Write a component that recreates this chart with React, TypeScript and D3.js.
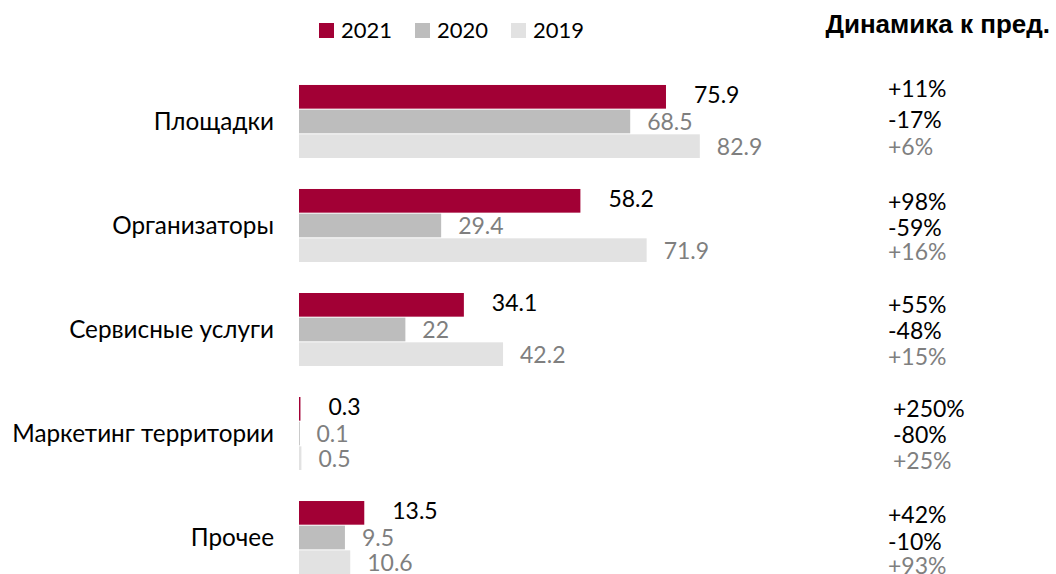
import React from "react";
import * as d3 from "d3";

const categories = ["Площадки", "Организаторы", "Сервисные услуги", "Маркетинг территории", "Прочее"];
const years = ["2021", "2020", "2019"];
const values2021 = [75.9, 58.2, 34.1, 0.3, 13.5];
const values2020 = [68.5, 29.4, 22, 0.1, 9.5];
const values2019 = [82.9, 71.9, 42.2, 0.5, 10.6];
const dyn2021 = ["+11%", "+98%", "+55%", "+250%", "+42%"];
const dyn2020 = ["-17%", "-59%", "-48%", "-80%", "-10%"];
const dyn2019 = ["+6%", "+16%", "+15%", "+25%", "+93%"];

const W = 1056;
const H = 574;
const FONT = "Lato, 'Open Sans', sans-serif";
const GRAY_TEXT = "#7f7f7f";

const colors: Record<string, string> = { "2021": "#a20035", "2020": "#bdbdbd", "2019": "#e2e2e2" };

// baseline offsets of the "dynamics" rows from the middle of each group
const dynRowOffsets = [
  [-25, 6, 33],
  [-16, 10, 34],
  [-17, 9, 35],
  [-17, 9, 35],
  [-15, 12, 36],
];

const App = () => {
  const seriesByYear: Record<string, number[]> = { "2021": values2021, "2020": values2020, "2019": values2019 };
  const dynByYear: Record<string, string[]> = { "2021": dyn2021, "2020": dyn2020, "2019": dyn2019 };

  const x = d3.scaleLinear().domain([0, 100]).range([299, 782.5]);
  const y = d3.scaleBand().domain(categories).range([70, 590]).paddingInner(0.2885).paddingOuter(0.144);
  const inner = d3.scaleBand().domain(years).range([0, y.bandwidth()]);

  // legend positions
  const legendX = d3.scalePoint().domain(years).range([319, 511]);

  return (
    <svg width={W} height={H} style={{ position: "absolute", left: 0, top: 0, background: "#fff" }}>
      {/* legend */}
      {years.map((yr) => (
        <g key={yr} transform={`translate(${legendX(yr)},23)`}>
          <rect width={15} height={15} fill={colors[yr]} />
          <text x={22} y={15} fontFamily={FONT} fontSize={22} fill="#000">{yr}</text>
        </g>
      ))}

      <text x={1050} y={33} textAnchor="end" fontFamily="'Liberation Sans', Arial, sans-serif" fontWeight="bold" fontSize={26} fill="#000">
        Динамика к пред.
      </text>

      {categories.map((cat, i) => {
        const y0 = y(cat) as number;
        const mid = y0 + y.bandwidth() / 2;
        return (
          <g key={cat}>
            <text x={274} y={mid + 8} textAnchor="end" fontFamily={FONT} fontSize={24.3} fill="#000">{cat}</text>
            {years.map((yr) => {
              const v = seriesByYear[yr][i];
              const by = y0 + (inner(yr) as number);
              const bh = inner.bandwidth();
              return (
                <g key={yr}>
                  <rect x={x(0)} y={by} width={Math.max(x(v) - x(0), 0.8)} height={bh - 1} fill={colors[yr]} />
                  <text
                    x={x(v) + (yr === "2021" ? 28 : 17)}
                    y={by + bh / 2 + (yr === "2021" ? 6 : 8)}
                    fontFamily={FONT}
                    fontSize={23}
                    fill={yr === "2021" ? "#000" : GRAY_TEXT}
                  >
                    {String(v)}
                  </text>
                </g>
              );
            })}
            {years.map((yr, j) => (
              <text
                key={"d" + yr}
                x={i === 3 ? 893 : 888}
                y={mid + dynRowOffsets[i][j]}
                fontFamily={FONT}
                fontSize={23}
                fill={yr === "2019" ? GRAY_TEXT : "#000"}
              >
                {dynByYear[yr][i]}
              </text>
            ))}
          </g>
        );
      })}
    </svg>
  );
};

export default App;
